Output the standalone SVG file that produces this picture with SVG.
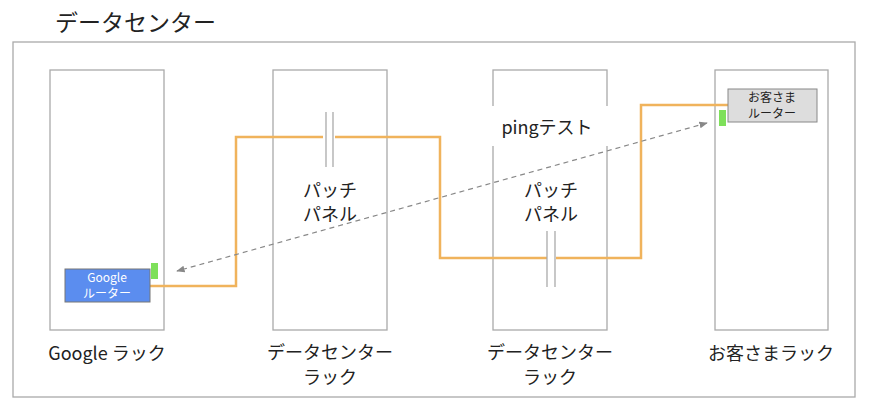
<svg xmlns="http://www.w3.org/2000/svg" width="873" height="406" viewBox="0 0 873 406">
<defs>
<style>
.t{font-family:"Noto Sans CJK JP","Liberation Sans",sans-serif;fill:#222;}
.w{font-family:"Noto Sans CJK JP","Liberation Sans",sans-serif;fill:#fff;}
.rack{fill:#fff;stroke:#aaa;stroke-width:1.3;}
.pp{stroke:#aaa;stroke-width:1.3;}
.cable{fill:none;stroke:#f0b35c;stroke-width:2.5;}
</style>
<marker id="ah" viewBox="0 0 10 10" refX="9" refY="5" markerWidth="7" markerHeight="7" orient="auto-start-reverse">
<path d="M0,1 L10,5 L0,9 Z" fill="#888"/>
</marker>
</defs>
<rect width="873" height="406" fill="#fff"/>
<text class="t" x="55" y="31" font-size="23">データセンター</text>
<rect x="13" y="42" width="842" height="355" fill="#fff" stroke="#aaa" stroke-width="1.3"/>
<g id="rack-google"><rect class="rack" x="50" y="70" width="114" height="260"/>
<text class="t" x="107" y="360" font-size="18" text-anchor="middle">Google ラック</text></g>
<g id="rack-dc1"><rect class="rack" x="273" y="70" width="114" height="260"/>
<text class="t" x="330" y="359" font-size="18" text-anchor="middle">データセンター</text>
<text class="t" x="330" y="384" font-size="18" text-anchor="middle">ラック</text></g>
<g id="rack-dc2"><rect class="rack" x="493" y="70" width="114" height="260"/>
<text class="t" x="550" y="359" font-size="18" text-anchor="middle">データセンター</text>
<text class="t" x="550" y="384" font-size="18" text-anchor="middle">ラック</text></g>
<g id="rack-customer"><rect class="rack" x="715" y="70" width="113" height="260"/>
<text class="t" x="771" y="360" font-size="18" text-anchor="middle">お客さまラック</text></g>
<g id="connectors">
<polyline class="cable" points="150,286 236,286 236,137 323,137"/>
<polyline class="cable" points="335,137 440,137 440,258 547,258"/>
<polyline class="cable" points="556,258 641,258 641,105 728,105"/>
<line x1="707" y1="123" x2="177" y2="271" stroke="#888" stroke-width="1.2" stroke-dasharray="5,4" marker-start="url(#ah)" marker-end="url(#ah)"/>
</g>
<g id="patch1"><line class="pp" x1="326" y1="112" x2="326" y2="167"/><line class="pp" x1="333" y1="112" x2="333" y2="167"/>
<text class="t" x="330" y="197" font-size="18" text-anchor="middle">パッチ</text>
<text class="t" x="330" y="221" font-size="18" text-anchor="middle">パネル</text></g>
<g id="patch2"><line class="pp" x1="547" y1="231" x2="547" y2="287"/><line class="pp" x1="555" y1="231" x2="555" y2="287"/>
<text class="t" x="551" y="197" font-size="18" text-anchor="middle">パッチ</text>
<text class="t" x="551" y="221" font-size="18" text-anchor="middle">パネル</text></g>
<g id="ping"><rect x="488" y="106" width="124" height="40" fill="#fff"/>
<text class="t" x="547" y="134" font-size="18" text-anchor="middle">pingテスト</text></g>
<g id="google-router"><rect x="65" y="269" width="85" height="33" fill="#5b8def" stroke="#777" stroke-width="1"/>
<rect x="151" y="263" width="7" height="16" fill="#7ee05a"/>
<text class="w" x="107" y="282" font-size="12" text-anchor="middle">Google</text>
<text class="w" x="107" y="298" font-size="12" text-anchor="middle">ルーター</text></g>
<g id="customer-router"><rect x="728" y="89" width="89" height="33" fill="#ddd" stroke="#888" stroke-width="1"/>
<rect x="719" y="110" width="7" height="16" fill="#7ee05a"/>
<text class="t" x="772" y="102" font-size="12" text-anchor="middle">お客さま</text>
<text class="t" x="772" y="118" font-size="12" text-anchor="middle">ルーター</text></g>
</svg>
